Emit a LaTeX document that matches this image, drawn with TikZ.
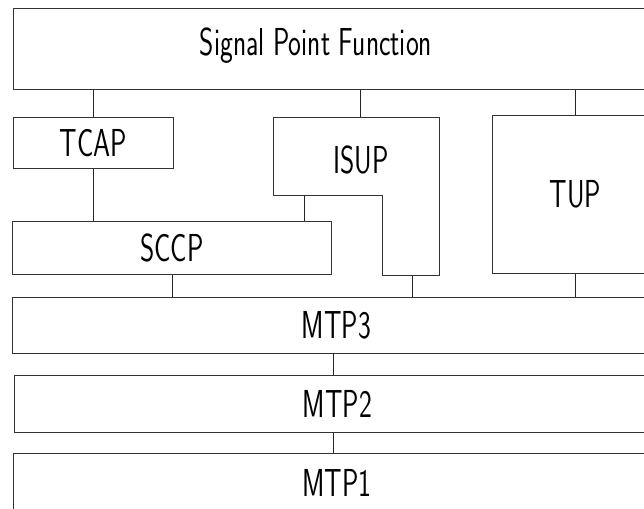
\documentclass[tikz,border=0pt]{standalone}
\usepackage{tikz}
\usetikzlibrary{calc}

\newcommand{\narrow}[1]{\scalebox{0.7}[1]{#1}}

\tikzset{
  layer/.style={draw=black!80, line width=0.9pt, anchor=north west, inner sep=0pt,
    font=\fontsize{39}{39}\sffamily},
  lbl/.style={inner sep=0pt, font=\fontsize{39}{39}\sffamily},
  link/.style={draw=black!85, line width=0.8pt}
}

\begin{document}
\begin{tikzpicture}[x=1pt, y=-1pt]
         \useasboundingbox (0,0) rectangle (644,508);
         \clip (0,0) rectangle (644,508);
         % upper layers
         \node[layer, minimum width=647pt, minimum height=81pt] (spf) at (13,8) {};
         \node[lbl] (spftxt) at (316,46) {\narrow{Signal Point Function}};
         \node[layer, minimum width=160pt, minimum height=51pt] (tcap) at (13,117) {\narrow{TCAP}};
         \node[layer, minimum width=319pt, minimum height=53pt] (sccp) at (12,221) {\narrow{SCCP}};
         \node[layer, minimum width=166pt, minimum height=158pt] (tup) at (492,115) {\narrow{TUP}};
         % ISUP is L shaped
         \draw[draw=black!80, line width=0.9pt] (273,117) -- (439,117) -- (439,275) -- (382,275)
               -- (382,195) -- (273,195) -- cycle;
         \node[lbl] (isup) at (361,160) {\narrow{ISUP}};
         \coordinate (isuptop) at (360,117);
         \coordinate (isupleg) at (304,195);
         \coordinate (isupfoot) at (412,275);
         % MTP
         \node[layer, minimum width=648pt, minimum height=56pt] (mtp3) at (12,297) {\narrow{MTP3}};
         \node[layer, minimum width=646pt, minimum height=57pt] (mtp2) at (14,375) {\narrow{MTP2}};
         \node[layer, minimum width=647pt, minimum height=60pt] (mtp1) at (13,453) {\narrow{MTP1}};
         \coordinate (mtpaxis) at (333,353);
         % links
         \draw[link] (tcap.north) -- (tcap.north |- spf.south);
         \draw[link] (isuptop) -- (isuptop |- spf.south);
         \draw[link] (tup.north) -- (tup.north |- spf.south);
         \draw[link] (tcap.south) -- (tcap.south |- sccp.north);
         \draw[link] (isupleg) -- (isupleg |- sccp.north);
         \draw[link] (sccp.south) -- (sccp.south |- mtp3.north);
         \draw[link] (isupfoot) -- (isupfoot |- mtp3.north);
         \draw[link] (tup.south) -- (tup.south |- mtp3.north);
         \draw[link] (mtpaxis) -- (mtpaxis |- mtp2.north);
         \draw[link] (mtpaxis |- mtp2.south) -- (mtpaxis |- mtp1.north);
      \end{tikzpicture}
\end{document}
